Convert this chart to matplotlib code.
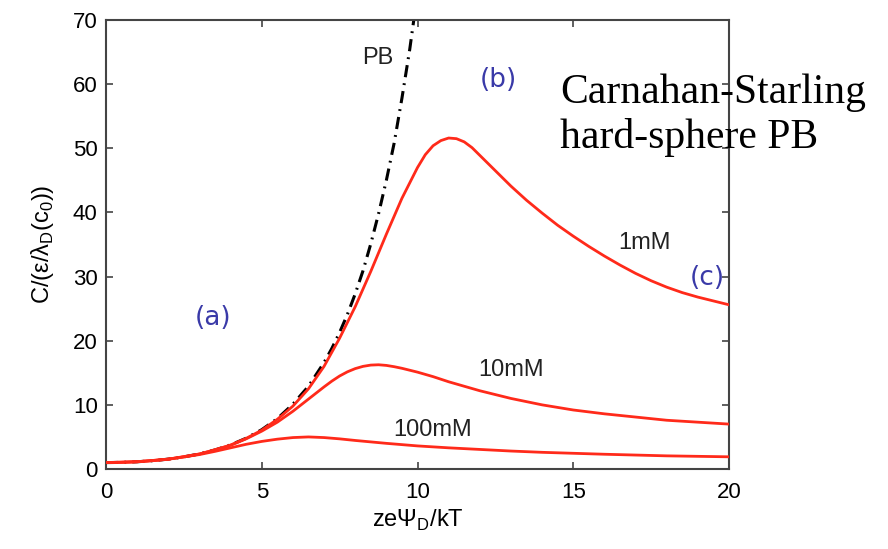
import matplotlib
matplotlib.use("Agg")
import matplotlib.pyplot as plt

# ---- data ----
x_pb = [0, 0.5, 1, 1.5, 2, 2.5, 3, 3.5, 4, 4.5, 5, 5.5, 6, 6.5, 7, 7.25, 7.5, 7.75, 8, 8.25, 8.5, 8.75,
        9, 9.25, 9.5, 9.75, 10, 10.2]
y_pb = [1.0, 1.03, 1.13, 1.29, 1.54, 1.89, 2.35, 2.97, 3.76, 4.8, 6.13, 7.85, 10.1, 12.9, 16.6, 18.8,
        21.3, 24.1, 27.3, 30.9, 35.1, 39.8, 45.0, 50.8, 57.8, 65.4, 74.2, 80.0]

x_1mM = [0, 0.5, 1, 1.5, 2, 2.5, 3, 3.5, 4, 4.5, 5, 5.5, 6, 6.5, 7, 7.5, 8, 8.5, 9, 9.5, 10, 10.25,
         10.5, 10.75, 11, 11.25, 11.5, 11.75, 12, 12.5, 13, 13.5, 14, 14.5, 15, 15.5, 16, 16.5, 17,
         17.5, 18, 18.5, 19, 19.5, 20]
y_1mM = [1.0, 1.03, 1.13, 1.29, 1.54, 1.89, 2.35, 2.96, 3.74, 4.78, 6.05, 7.75, 9.8, 12.5, 16.0,
         20.4, 25.3, 30.8, 36.6, 42.2, 47.0, 49.0, 50.4, 51.2, 51.6, 51.5, 51.0, 50.1, 48.9, 46.5,
         44.1, 41.9, 39.9, 38.0, 36.3, 34.7, 33.2, 31.8, 30.5, 29.35, 28.35, 27.5, 26.8, 26.2, 25.6]

x_10mM = [0, 1, 2, 3, 4, 4.5, 5, 5.5, 6, 6.5, 7, 7.25, 7.5, 7.75, 8, 8.25, 8.5, 8.75, 9, 9.25, 9.5,
          10, 10.5, 11, 11.5, 12, 12.5, 13, 13.5, 14, 14.5, 15, 16, 17, 18, 19, 20]
y_10mM = [1.0, 1.13, 1.54, 2.33, 3.7, 4.7, 5.9, 7.3, 9.0, 10.9, 12.8, 13.7, 14.5, 15.15, 15.65, 16.0,
          16.2, 16.25, 16.15, 15.95, 15.7, 15.1, 14.4, 13.6, 12.9, 12.2, 11.6, 11.0, 10.5, 10.0, 9.6,
          9.2, 8.6, 8.1, 7.6, 7.3, 7.0]

x_100mM = [0, 1, 2, 3, 3.5, 4, 4.5, 5, 5.5, 6, 6.5, 7, 7.5, 8, 9, 10, 11, 12, 13, 14, 16, 18, 20]
y_100mM = [1.0, 1.13, 1.52, 2.25, 2.75, 3.3, 3.85, 4.3, 4.65, 4.9, 5.0, 4.9, 4.7, 4.45, 4.0, 3.6,
           3.3, 3.05, 2.8, 2.6, 2.3, 2.05, 1.9]

xticks = [0, 5, 10, 15, 20]
yticks = [0, 10, 20, 30, 40, 50, 60, 70]

plt.rcParams['font.family'] = ['Liberation Sans', 'DejaVu Sans']

fig = plt.figure(figsize=(8.88, 5.49), dpi=100)
ax = fig.add_axes([106/888, 1-469/549, (729-106)/888, (469-20)/549])

red = '#ff2a1a'
ax.plot(x_pb, y_pb, color='black', lw=2.2, dashes=(4, 2, 0.6, 2), zorder=2)
ax.plot(x_1mM, y_1mM, color=red, lw=2.0, zorder=3)
ax.plot(x_10mM, y_10mM, color=red, lw=2.0, zorder=3)
ax.plot(x_100mM, y_100mM, color=red, lw=2.0, zorder=3)

ax.set_xlim(0, 20)
ax.set_ylim(0, 70)
ax.set_xticks(xticks)
ax.set_yticks(yticks)
ax.tick_params(direction='in', top=True, right=True, length=5, width=1.2,
               labelsize=16, color='#444444')
ax.tick_params(axis='x', pad=9)
ax.tick_params(axis='y', pad=6)
for s in ax.spines.values():
    s.set_linewidth(1.5)
    s.set_color('#444444')

ax.set_xlabel(r'zeΨ$_\mathregular{D}$/kT', fontsize=17, labelpad=4)
ax.set_ylabel(r'C/(ε/λ$_\mathregular{D}$(c$_\mathregular{0}$))', fontsize=17, labelpad=12)

ax.text(8.73, 64.1, 'PB', fontsize=17, ha='center', va='center', color='#222222')
ax.text(17.3, 35.2, '1mM', fontsize=17, ha='center', va='center', color='#222222')
ax.text(13.0, 15.4, '10mM', fontsize=17, ha='center', va='center', color='#222222')
ax.text(10.5, 6.1, '100mM', fontsize=17, ha='center', va='center', color='#222222')

blue = '#3a3aa8'
ax.text(3.43, 23.5, '(a)', fontsize=19, family='DejaVu Sans', ha='center', va='center', color=blue)
ax.text(12.6, 60.6, '(b)', fontsize=19, family='DejaVu Sans', ha='center', va='center', color=blue)
ax.text(19.3, 29.8, '(c)', fontsize=19, family='DejaVu Sans', ha='center', va='center', color=blue)

fig.text(560/888, 1-103/549, 'Carnahan-Starling', fontsize=30, family='Liberation Serif',
         ha='left', va='baseline', color='black')
fig.text(560/888, 1-148/549, 'hard-sphere PB', fontsize=30, family='Liberation Serif',
         ha='left', va='baseline', color='black')

fig.savefig('out.png', dpi=100)
